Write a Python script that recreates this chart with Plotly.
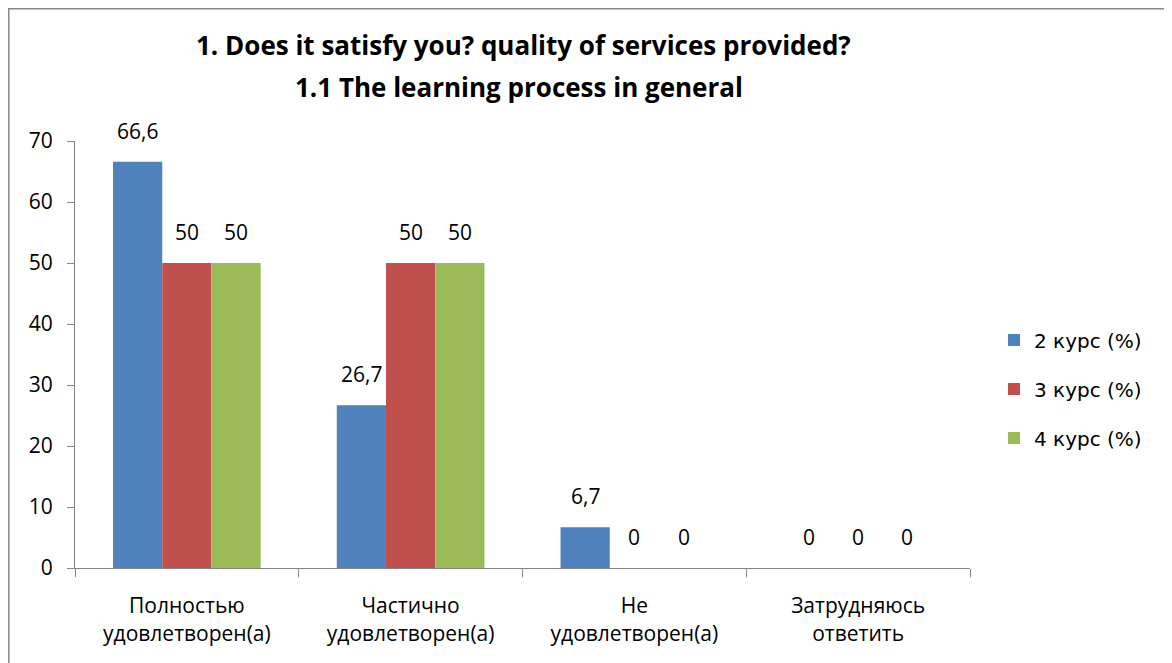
import plotly.graph_objects as go

categories = ["Полностью<br>удовлетворен(а)", "Частично<br>удовлетворен(а)", "Не<br>удовлетворен(а)", "Затрудняюсь<br>ответить"]
series_names = ["2 курс (%)", "3 курс (%)", "4 курс (%)"]
kurs2 = [66.6, 26.7, 6.7, 0]
kurs3 = [50, 50, 0, 0]
kurs4 = [50, 50, 0, 0]
colors = ["#4F81BD", "#C0504D", "#9BBB59"]
y_ticks = [0, 10, 20, 30, 40, 50, 60, 70]

OFF = 8  # browser body margin
W, H = 1172 - OFF, 663 - OFF
L, T = 75 - OFF, 141 - OFF
R = W - (970 - OFF)
B = H - (568 - OFF)
pw, ph = W - L - R, H - T - B
BARGAP = 0.34


def fmt(v):
    return ("%g" % v).replace(".", ",")


def px(xw):
    return (xw - OFF - L) / pw


def py(yw):
    return (H - B - (yw - OFF)) / ph


FONT = "Open Sans"
fig = go.Figure()
for name, vals, col in zip(series_names, [kurs2, kurs3, kurs4], colors):
    fig.add_trace(go.Bar(
        x=categories, y=vals, name=name, marker_color=col,
        marker_line_width=0, legendgroup=name,
    ))

# data labels placed above each bar
cat_px = pw / len(categories)
bar_px = cat_px * (1 - BARGAP) / 3
annotations = []
for i, vals in enumerate([kurs2, kurs3, kurs4]):
    for c, v in zip(categories, vals):
        annotations.append(dict(
            x=c, y=v, xref="x", yref="y", text=fmt(v), showarrow=False,
            xshift=(i - 1) * bar_px, yshift=15, yanchor="bottom", xanchor="center",
            font=dict(family=FONT, size=21, color="#000"),
        ))

annotations.append(dict(
    text="<b>1. Does it satisfy you? quality of services provided?</b>",
    xref="paper", yref="paper", x=px(523), y=py(45), xanchor="center", yanchor="middle",
    showarrow=False, font=dict(family=FONT, size=26, color="#000")))
annotations.append(dict(
    text="<b>1.1 The learning process in general</b>",
    xref="paper", yref="paper", x=px(519), y=py(87), xanchor="center", yanchor="middle",
    showarrow=False, font=dict(family=FONT, size=26, color="#000")))

fig.update_layout(
    width=W, height=H,
    margin=dict(l=L, r=R, t=T, b=B),
    paper_bgcolor="white", plot_bgcolor="white",
    barmode="group", bargap=BARGAP, bargroupgap=0,
    showlegend=True,
    legend=dict(x=px(994), y=py(389), xanchor="left", yanchor="middle",
                font=dict(family="DejaVu Sans", size=20, color="#000"),
                tracegroupgap=20, traceorder="grouped", itemwidth=30),
    xaxis=dict(showline=True, linecolor="#868686", linewidth=1,
               ticks="outside", ticklen=8, tickcolor="#868686", tickson="boundaries",
               tickfont=dict(family=FONT, size=21, color="#000"),
               showgrid=False, fixedrange=True, ticklabelstandoff=19),
    yaxis=dict(range=[0, 70], tickvals=y_ticks, showline=True, linecolor="#868686", linewidth=1,
               ticks="outside", ticklen=7, tickcolor="#868686",
               tickfont=dict(family=FONT, size=21, color="#000"),
               showgrid=False, zeroline=False, ticklabelstandoff=10),
    annotations=annotations,
    shapes=[dict(type="rect", xref="paper", yref="paper",
                 x0=px(8.8), x1=px(1170), y0=py(8.8), y1=py(700),
                 line=dict(color="#868686", width=1.5), fillcolor="rgba(0,0,0,0)")],
)

fig.write_html("out.html")
